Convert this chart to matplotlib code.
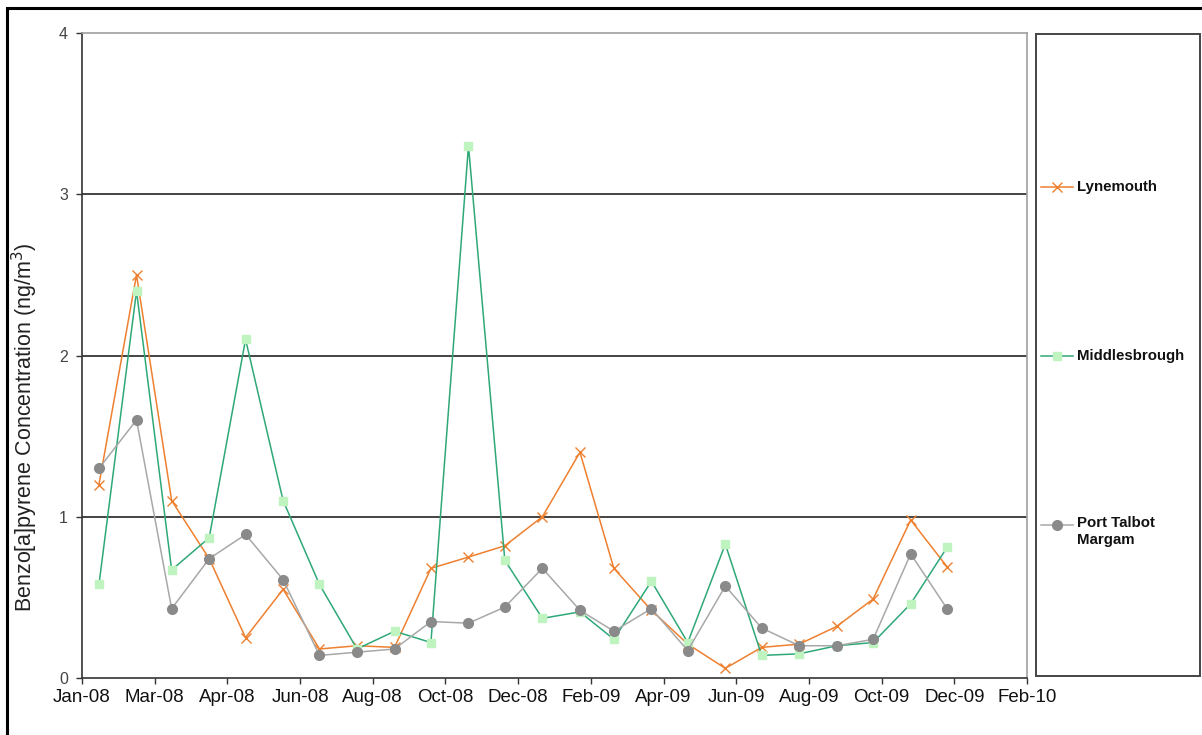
import matplotlib
matplotlib.use("Agg")
import matplotlib.pyplot as plt
import matplotlib.dates as mdates
from matplotlib.lines import Line2D
from matplotlib.patches import Rectangle
import pandas as pd
import datetime as dt

plt.rcParams['font.family'] = ['Liberation Sans', 'DejaVu Sans']

# ---- data ----
months = pd.date_range('2008-01-01', periods=24, freq='MS') + pd.Timedelta(days=14)
lynemouth = [1.20, 2.50, 1.10, 0.74, 0.25, 0.55, 0.18, 0.20, 0.19, 0.68, 0.75, 0.82,
             1.00, 1.40, 0.68, 0.42, 0.21, 0.06, 0.19, 0.21, 0.32, 0.49, 0.98, 0.69]
middlesbrough = [0.58, 2.40, 0.67, 0.87, 2.10, 1.10, 0.58, 0.18, 0.29, 0.22, 3.30, 0.73,
                 0.37, 0.41, 0.24, 0.60, 0.22, 0.83, 0.14, 0.15, 0.20, 0.22, 0.46, 0.81]
port_talbot = [1.30, 1.60, 0.43, 0.74, 0.89, 0.61, 0.14, 0.16, 0.18, 0.35, 0.34, 0.44,
               0.68, 0.42, 0.29, 0.43, 0.17, 0.57, 0.31, 0.20, 0.20, 0.24, 0.77, 0.43]
series_names = ['Lynemouth', 'Middlesbrough', 'Port Talbot\nMargam']
y_ticks = [0, 1, 2, 3, 4]
x_start = dt.date(2008, 1, 1)
x_end = dt.date(2010, 2, 19)
tick_step_days = 60

W, H = 1202, 735
fig = plt.figure(figsize=(W / 100, H / 100), dpi=100)
fig.patch.set_facecolor('white')

def px(x0, y0, x1, y1):
    return [x0 / W, 1 - y1 / H, (x1 - x0) / W, (y1 - y0) / H]

ax = fig.add_axes(px(82, 33, 1027, 678))

styles = [
    dict(color='#EE8030', marker='x', markersize=6.5, markeredgewidth=1.0,
         linewidth=1.1, markeredgecolor='#EE8030'),
    dict(color='#2FA878', marker='s', markersize=5.5, markerfacecolor='#BFF3BF',
         markeredgecolor='#BFF3BF', linewidth=1.1),
    dict(color='#A8A8A8', marker='o', markersize=7, markerfacecolor='#8A8A8A',
         markeredgecolor='#8A8A8A', linewidth=1.1),
]
data = [lynemouth, middlesbrough, port_talbot]
for vals, st in zip(data, styles):
    ax.plot(months, vals, zorder=3, **st)

ax.set_ylim(y_ticks[0], y_ticks[-1])
ax.set_yticks(y_ticks)
ax.set_xlim(mdates.date2num(x_start), mdates.date2num(x_end))
xt = [x_start + dt.timedelta(days=tick_step_days * i) for i in range(14)]
ax.set_xticks(mdates.date2num(xt))
ax.xaxis.set_major_formatter(mdates.DateFormatter('%b-%y'))

for y in y_ticks[1:-1]:
    ax.axhline(y, color='#111111', linewidth=1.1, zorder=1)

for s in ['left', 'bottom']:
    ax.spines[s].set_color('#333333')
    ax.spines[s].set_linewidth(1.2)
for s in ['top', 'right']:
    ax.spines[s].set_color('#A0A0A0')
    ax.spines[s].set_linewidth(1.2)

ax.tick_params(axis='y', direction='out', length=4, width=1, color='#333333',
               labelsize=11.5, labelcolor='#444444', pad=6)
ax.tick_params(axis='x', direction='out', length=4, width=1, color='#333333',
               labelsize=13.5, labelcolor='#111111', pad=4)

ax.set_ylabel('Benzo[a]pyrene Concentration (ng/m$^3$)', fontsize=15.5, color='#222222')
ax.yaxis.set_label_coords(-0.044, 0.388)

# outer frame
fig.add_artist(Rectangle((7 / W, -0.05), 1.1, 1 - 8 / H + 0.05, transform=fig.transFigure,
                         fill=False, edgecolor='black', linewidth=2.2))
# legend box
lx0, ly0, lx1, ly1 = 1036, 34, 1200, 676
fig.add_artist(Rectangle((lx0 / W, 1 - ly1 / H), (lx1 - lx0) / W, (ly1 - ly0) / H,
                         transform=fig.transFigure, fill=False, edgecolor='#444444',
                         linewidth=1.4))
legend_y = [187, 356, 525]
for name, st, yy in zip(series_names, styles, legend_y):
    line_kw = {k: v for k, v in st.items() if not k.startswith('marker')}
    mark_kw = {k: v for k, v in st.items() if k not in ('linewidth', 'color')}
    fig.add_artist(Line2D([1041 / W, 1073 / W], [1 - yy / H, 1 - yy / H],
                          transform=fig.transFigure, **line_kw))
    fig.add_artist(Line2D([1057 / W], [1 - yy / H], transform=fig.transFigure,
                          linestyle='none', **mark_kw))
    if '\n' in name:
        fig.text(1077 / W, 1 - (yy - 9) / H, name, fontsize=10.8, fontweight='bold',
                 color='#111111', va='top', ha='left', linespacing=1.3)
    else:
        fig.text(1077 / W, 1 - yy / H, name, fontsize=10.8, fontweight='bold',
                 color='#111111', va='center', ha='left')

fig.savefig('out.png', dpi=100, facecolor='white')
